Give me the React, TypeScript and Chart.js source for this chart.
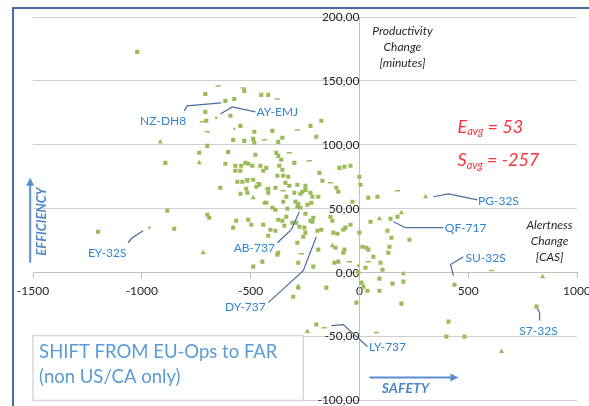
import React, { useEffect, useRef } from "react";
import { Chart, registerables } from "chart.js";

Chart.register(...registerables);

// ---- Data (x = Alertness Change [CAS], y = Productivity Change [minutes]) ----
const squareX = [
  -1021, -708, -529, -451, -419, -575, -616, -593, -708, -704, -547, -400, -699, -580, -529, -488, -483, -354, -373,
  -736, -603, -478, -382, -373, -359, -892, -616, -570, -543, -524, -511, -492, -570, -547, -455, -428, -442, -368,
  -354, -299, -377, -350, -327, -561, -515, -639, -520, -515, -419, -386, -340, -322, -299, -547, -419, -225, -175,
  -198, -92, -69, -184, -285, -248, -262, -225, -106, -97, -189, 0, 5, 41, 83, -1201, -883, -851, -699, -690, -580,
  -566, -497, -442, -409, -419, -377, -446, -354, -336, -308, -290, -281, -281, -400, -386, -428, -350, -331, -285,
  -239, -221, -248, -225, -212, -276, -258, -285, -193, -175, -133, -124, -120, -101, -74, -64, -41, -32, -69, -115,
  -97, -212, -152, -304, 51, 0, 32, 41, 64, 28, 97, 106, 129, 147, 138, 133, -5, 9, 18, 37, -14, 92, 143, 175, 230,
  202, 193, 409, 400, 483, 437, 814, -198, 152, 92, -483, -271, -248, -170, -460, -474, -294, -281, -271, -216, -41,
  -511, -373, -345, -386, -253, -248, -216, -189, -110, -74, -373, 14, -336, -488, -488, -538,
];
const squareY = [
  172.7, 139.8, 142.2, 139.1, 139.1, 135.9, 134.4, 122.7, 125.8, 118.8, 114.8, 110.9, 99.2, 103.9, 103.1, 104.7, 101.6,
  105.5, 102.3, 93.8, 94.5, 92.2, 93.8, 91.4, 88.3, 85.9, 85.2, 83.6, 83.6, 85.9, 85.2, 83.6, 79.7, 79.7, 83.6, 82.0,
  79.7, 83.6, 80.5, 85.9, 75.8, 75.8, 75.0, 71.1, 71.9, 66.4, 65.6, 62.5, 65.6, 66.4, 70.3, 68.0, 62.5, 61.7, 62.5,
  114.8, 118.8, 106.3, 82.0, 82.8, 78.1, 68.8, 68.0, 63.3, 62.5, 66.4, 63.3, 59.4, 75.0, 68.8, 58.6, 59.4, 32.0, 48.4,
  34.4, 45.3, 43.0, 35.2, 40.6, 37.5, 37.5, 33.6, 28.9, 14.1, 8.6, 40.6, 43.8, 39.1, 39.1, 7.8, -11.7, 50.8, 49.2,
  54.7, 55.5, 50.0, 51.6, 53.1, 54.7, 46.1, 40.6, 43.0, 35.9, 28.1, 23.4, 32.8, 33.6, 43.8, 40.6, 31.3, 30.5, 33.6,
  35.2, 37.5, 55.5, 18.0, 7.8, 8.6, 4.7, -11.7, -18.8, 39.8, 31.3, 19.5, 18.0, 12.5, 3.9, 7.8, 2.3, 32.8, 27.3, 20.3,
  15.6, 0, -7.8, -10.9, -14.1, -23.4, -14.1, 42.2, 43.8, 25.8, -7.0, -24.2, -38.3, -50.0, -50.0, -9.4, -26.6, -40.6,
  -8.6, -4.7, 110.2, 61.7, 64.8, 71.9, 68.8, 67.2, 55.5, 53.9, 50.8, 59.4, 83.6, 41.4, 41.4, 36.7, 32.8, 35.2, 31.3,
  39.8, 18.0, 19.5, 15.6, 15.6, 20.3, 59.4, 72.7, 4.7, 71.1,
];
const triangleX = [-915, -736, -718, 304, 193, 202, 653, 842, -239, -281, -124, 92, -488, -437];
const triangleY = [102.3, 85.9, 15.6, 59.4, 46.9, -0.8, -61.7, -3.1, -46.1, -10.9, 21.1, 42.2, 58.6, 54.7];
const dashX = [-649, -534, -377, -722, -699, -285, -437, -322, -465, -230, -133, 175, -267, -46, 41, 607, -161, 78, -423, -515, -350];
const dashY = [146.1, 144.5, 135.9, 118.0, 110.2, 111.7, 103.9, 93.8, 70.3, 87.5, 70.3, 64.1, 14.8, 8.6, 8.6, 1.6, -43.0, -46.9, 65.6, 73.4, 64.1];
const dotX = [-658, -966, -575, -5];
const dotY = [121.1, 35.2, 112.5, 5.5];

const xTicks = [-1500, -1000, -500, 0, 500, 1000];
const yTicks = [-100, -50, 0, 50, 100, 150, 200];

// Labels with leader lines
const labelNames = ["NZ-DH8", "AY-EMJ", "EY-32S", "AB-737", "DY-737", "LY-737", "QF-717", "PG-32S", "SU-32S", "S7-32S"];
const labelPos: number[][] = [
  [-902, 118.8], [-377, 125.8], [-1159, 15.6], [-483, 19.5], [-524, -27.3],
  [129, -58.6], [488, 35.2], [639, 56.3], [580, 11.7], [823, -46],
];
const leaders: number[][][] = [
  [[-805, 126.6], [-791, 130.5], [-635, 132.8]],
  [[-639, 124.2], [-584, 129.7], [-478, 125.8]],
  [[-1063, 23.4], [-1044, 27.3], [-994, 32.8]],
  [[-377, 23.4], [-313, 33.6], [-276, 47.7]],
  [[-419, -23.4], [-258, 1.6], [-198, 28.1]],
  [[37, -57.8], [-74, -40.6], [-129, -41.4]],
  [[386, 35.2], [212, 35.2], [156, 39.8]],
  [[543, 57], [409, 61.7], [340, 59.4]],
  [[478, 12.5], [419, 6.3], [432, -2.3]],
  [[828, -37.5], [828, -31.3], [819, -28.1]],
];

const yAxisTitle = ["Productivity", "Change", "[minutes]"];
const xAxisTitle = ["Alertness", "Change", "[CAS]"];
const boxLines = ["SHIFT FROM EU-Ops to FAR", "(non US/CA only)"];
const eAvg = 53;
const sAvg = -257;

const GREEN = "#9BBB59";
const LABEL_BLUE = "#2F86D0";
const LEADER = "#4A6E9C";
const ARROW_BLUE = "#5A8ED0";
const FONT = "Lato, 'Open Sans', sans-serif";

function toPts(xs: number[], ys: number[]) {
  return xs.map((x, i) => ({ x, y: ys[i] }));
}

const noPad = (s: any) => {
  s.paddingLeft = 0;
  s.paddingRight = 0;
  s.paddingTop = 0;
  s.paddingBottom = 0;
};

const annotPlugin = {
  id: "annot",
  afterDatasetsDraw(chart: any) {
    const ctx: CanvasRenderingContext2D = chart.ctx;
    const xs = chart.scales.x;
    const ys = chart.scales.y;
    const px = (v: number) => xs.getPixelForValue(v);
    const py = (v: number) => ys.getPixelForValue(v);
    ctx.save();

    // leader lines + labels
    ctx.strokeStyle = LEADER;
    ctx.lineWidth = 1.2;
    leaders.forEach((pts) => {
      ctx.beginPath();
      pts.forEach((p, i) => (i === 0 ? ctx.moveTo(px(p[0]), py(p[1])) : ctx.lineTo(px(p[0]), py(p[1]))));
      ctx.stroke();
    });
    ctx.fillStyle = LABEL_BLUE;
    ctx.font = `12px ${FONT}`;
    ctx.textAlign = "center";
    ctx.textBaseline = "middle";
    labelNames.forEach((n, i) => ctx.fillText(n, px(labelPos[i][0]), py(labelPos[i][1])));

    // axis titles
    ctx.fillStyle = "#262626";
    ctx.font = `italic 12px ${FONT}`;
    yAxisTitle.forEach((t, i) => ctx.fillText(t, px(198), py(189) + i * 16));
    xAxisTitle.forEach((t, i) => ctx.fillText(t, px(874), py(37.5) + i * 16));

    // averages
    const drawAvg = (letter: string, val: number, x: number, y: number) => {
      ctx.fillStyle = "#F5333C";
      ctx.textAlign = "left";
      ctx.font = `italic 18px ${FONT}`;
      ctx.fillText(letter, x, y);
      let w = ctx.measureText(letter).width;
      ctx.font = `italic 11px ${FONT}`;
      ctx.fillText("avg", x + w, y + 5);
      w += ctx.measureText("avg").width;
      ctx.font = `italic 18px ${FONT}`;
      ctx.fillText(" = " + val, x + w, y);
    };
    drawAvg("E", eAvg, px(451), py(114));
    drawAvg("S", sAvg, px(451), py(88));

    // arrows
    const arrow = (x1: number, y1: number, x2: number, y2: number) => {
      ctx.strokeStyle = ARROW_BLUE;
      ctx.fillStyle = ARROW_BLUE;
      ctx.lineWidth = 2;
      const ang = Math.atan2(y2 - y1, x2 - x1);
      ctx.beginPath();
      ctx.moveTo(x1, y1);
      ctx.lineTo(x2 - Math.cos(ang) * 5, y2 - Math.sin(ang) * 5);
      ctx.stroke();
      ctx.beginPath();
      ctx.moveTo(x2, y2);
      ctx.lineTo(x2 - Math.cos(ang) * 8 + Math.sin(ang) * 4, y2 - Math.sin(ang) * 8 - Math.cos(ang) * 4);
      ctx.lineTo(x2 - Math.cos(ang) * 8 - Math.sin(ang) * 4, y2 - Math.sin(ang) * 8 + Math.cos(ang) * 4);
      ctx.closePath();
      ctx.fill();
    };
    arrow(px(-1513), py(7.8), px(-1513), py(74.2));
    arrow(px(46), py(-82), px(455), py(-82));

    ctx.fillStyle = "#4F86C6";
    ctx.textAlign = "center";
    ctx.font = `bold italic 14px ${FONT}`;
    ctx.fillText("SAFETY", px(212), py(-90.6));
    ctx.save();
    ctx.translate(px(-1459), py(40));
    ctx.rotate(-Math.PI / 2);
    ctx.font = `bold italic 13px ${FONT}`;
    ctx.fillText("EFFICIENCY", 0, 0);
    ctx.restore();

    // text box
    const bx1 = px(-1500), bx2 = px(-258), by1 = py(-49.2), by2 = py(-100);
    ctx.fillStyle = "#FFFFFF";
    ctx.fillRect(bx1, by1, bx2 - bx1, by2 - by1);
    ctx.strokeStyle = "#D6D6D6";
    ctx.lineWidth = 1.5;
    ctx.strokeRect(bx1, by1, bx2 - bx1, by2 - by1);
    ctx.fillStyle = "#5B9BD5";
    ctx.textAlign = "left";
    ctx.font = `18.5px ${FONT}`;
    ctx.fillText(boxLines[0], px(-1472), py(-61.7));
    ctx.fillText(boxLines[1], px(-1472), py(-82));

    // frame
    ctx.strokeStyle = "#4A6AA5";
    ctx.lineWidth = 2;
    ctx.beginPath();
    ctx.moveTo(13, chart.height);
    ctx.lineTo(13, 8);
    ctx.lineTo(chart.width, 8);
    ctx.stroke();
    ctx.restore();
  },
};

export default function App() {
  const ref = useRef<HTMLCanvasElement | null>(null);
  useEffect(() => {
    if (!ref.current) return;
    const chart = new Chart(ref.current, {
      type: "scatter",
      data: {
        datasets: [
          { data: toPts(squareX, squareY), pointStyle: "rect", pointRadius: 2.9, backgroundColor: GREEN, borderColor: GREEN, borderWidth: 0 },
          { data: toPts(triangleX, triangleY), pointStyle: "triangle", pointRadius: 3, backgroundColor: GREEN, borderColor: GREEN, borderWidth: 0 },
          { data: toPts(dashX, dashY), pointStyle: "line", pointRadius: 2.6, backgroundColor: GREEN, borderColor: GREEN, borderWidth: 1.5 },
          { data: toPts(dotX, dotY), pointStyle: "circle", pointRadius: 1.3, backgroundColor: GREEN, borderColor: GREEN, borderWidth: 0 },
        ],
      },
      options: {
        responsive: false,
        animation: false,
        layout: { padding: { left: 33, right: 12, top: 17, bottom: 5 } },
        plugins: { legend: { display: false }, tooltip: { enabled: false } },
        scales: {
          x: {
            type: "linear",
            min: xTicks[0],
            max: xTicks[xTicks.length - 1],
            position: { y: 0 } as any,
            afterBuildTicks: (s: any) => { s.ticks = xTicks.map((v) => ({ value: v })); },
            afterFit: noPad,
            ticks: { color: "#262626", font: { family: FONT, size: 12 }, padding: 6, maxRotation: 0, autoSkip: false, callback: (v: any) => String(v) },
            grid: { drawOnChartArea: false, drawTicks: true, tickLength: 5, color: "#BFBFBF" },
            border: { color: "#BFBFBF", width: 1 },
          },
          y: {
            type: "linear",
            min: yTicks[0],
            max: yTicks[yTicks.length - 1],
            position: { x: 0 } as any,
            afterBuildTicks: (s: any) => { s.ticks = yTicks.map((v) => ({ value: v })); },
            afterFit: noPad,
            ticks: {
              color: "#262626",
              font: { family: FONT, size: 12 },
              padding: 13,
              callback: (v: any) => Number(v).toFixed(2).replace(".", ","),
            },
            grid: { drawTicks: false, color: "#CFCFCF" },
            border: { color: "#BFBFBF", width: 1 },
          },
        },
      },
      plugins: [annotPlugin],
    });
    return () => chart.destroy();
  }, []);
  return (
    <div style={{ position: "fixed", left: 0, top: 0, width: 589, height: 406, background: "#fff" }}>
      <canvas ref={ref} width={589} height={406} />
    </div>
  );
}
